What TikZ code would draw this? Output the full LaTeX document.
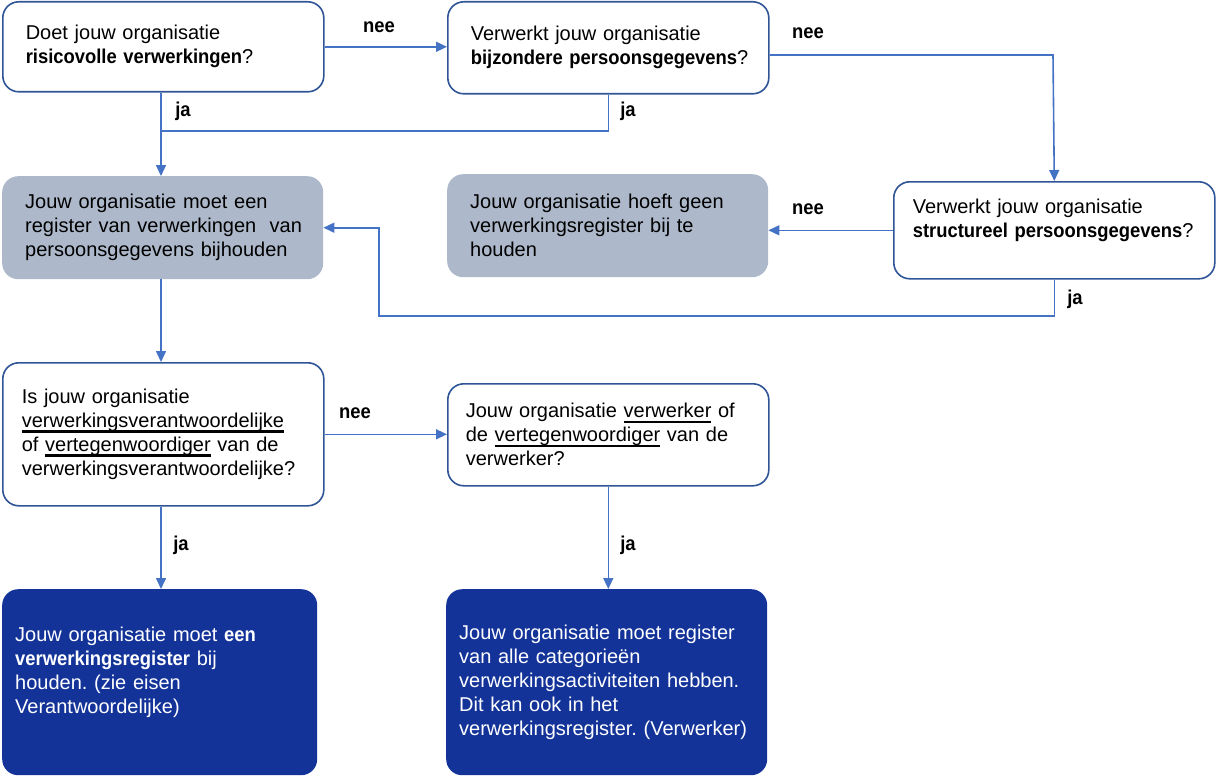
\documentclass[tikz,border=0pt]{standalone}
\usepackage{fontspec}
\setmainfont{Liberation Sans}[BoldFeatures={FakeStretch=0.92}]
\usetikzlibrary{arrows.meta}
\definecolor{bordercol}{HTML}{2F5597}
\definecolor{linecol}{HTML}{4472C4}
\definecolor{greyfill}{HTML}{ADB9CA}
\definecolor{darkfill}{HTML}{133399}
\newcommand\myul[1]{\setbox0\hbox{#1}\leavevmode\rlap{\raisebox{-5.5pt}{\rule{\wd0}{2.8pt}}}\box0\relax}
\frenchspacing
\tikzset{
  basebox/.style={rectangle, rounded corners=16pt, inner xsep=23pt, inner ysep=0pt,
    align=left, text width=275pt, anchor=north west,
    font=\fontsize{20}{24}\selectfont},
  qbox/.style={basebox, draw=bordercol, line width=1.6pt, fill=white},
  gbox/.style={basebox, fill=greyfill},
  dbox/.style={basebox, fill=darkfill, text=white},
  conn/.style={draw=linecol, line width=1.6pt},
  arr/.style={conn, -{Triangle[length=11pt,width=10pt]}},
  lbl/.style={font=\fontsize{20}{24}\selectfont\bfseries, inner sep=0pt}
}
\begin{document}
\begin{tikzpicture}[x=1pt,y=-1pt]
\useasboundingbox (0,0) rectangle (1216,776);

\node[qbox, minimum width=321pt, minimum height=90pt] (q1) at (2,1)
  {Doet jouw organisatie\\\mbox{\textbf{risicovolle verwerkingen}?}};
\node[qbox, minimum width=321pt, minimum height=92pt] (q2) at (447,1)
  {Verwerkt jouw organisatie\\\mbox{\textbf{bijzondere persoonsgegevens}?}};
\node[gbox, minimum width=319pt, minimum height=103pt] (r1) at (2,176)
  {Jouw organisatie moet een\\\mbox{register van verwerkingen\ \ van}\\\mbox{persoonsgegevens bijhouden}};
\node[gbox, minimum width=320pt, minimum height=103pt] (r2) at (447,174)
  {Jouw organisatie hoeft geen\\verwerkingsregister bij te\\houden};
\node[qbox, minimum width=321pt, minimum height=97pt, inner xsep=19pt, text width=283pt] (q3) at (893,181)
  {Verwerkt jouw organisatie\\\mbox{\textbf{structureel persoonsgegevens}?}\\\mbox{}};
\node[qbox, minimum width=321pt, minimum height=143pt, inner xsep=19pt, text width=283pt] (q4) at (2,362)
  {Is jouw organisatie\\\myul{verwerkingsverantwoordelijke}\\\mbox{of \myul{vertegenwoordiger} van de}\\verwerkingsverantwoordelijke?};
\node[qbox, minimum width=321pt, minimum height=102pt, inner xsep=18pt, text width=285pt] (q5) at (447,383)
  {\mbox{Jouw organisatie \myul{verwerker} of}\\\mbox{de \myul{vertegenwoordiger} van de}\\verwerker?};
\node[dbox, minimum width=315pt, minimum height=186pt, inner xsep=13pt, text width=289pt] (f1) at (2,589)
  {\mbox{Jouw organisatie moet \textbf{een}}\\\mbox{\textbf{verwerkingsregister} bij}\\houden. (zie eisen\\Verantwoordelijke)\\\mbox{}};
\node[dbox, minimum width=321pt, minimum height=186pt, inner xsep=13pt, text width=295pt] (f2) at (446,589)
  {Jouw organisatie moet register\\van alle categorieën\\\mbox{verwerkingsactiviteiten hebben.}\\Dit kan ook in het\\\mbox{verwerkingsregister. (Verwerker)}};

% connectors
\coordinate (j1) at (161,131);
\coordinate (b1) at (1053,55);
\coordinate (b2) at (379,316);

\draw[arr] (q1.east) -- (q1.east -| q2.west);
\draw[arr] (q1.south -| j1) -- (r1.north -| j1);
\draw[conn] (q2.south) |- (j1);
\draw[arr] (q2.east |- b1) -- (b1) -- (q3.north);
\draw[arr] (q3.west) -- (q3.west -| r2.east);
\draw[arr] (q3.south) |- (b2) |- (r1.east);
\draw[arr] (r1.south -| j1) -- (q4.north -| j1);
\draw[arr] (q4.east) -- (q4.east -| q5.west);
\draw[arr] (q4.south -| j1) -- (f1.north -| j1);
\draw[arr] (q5.south) -- (q5.south |- f2.north);

% labels
\node[lbl] (l1) at (379,27) {nee};
\node[lbl] (l2) at (183,111) {ja};
\node[lbl] (l3) at (628,111) {ja};
\node[lbl] (l4) at (808,33) {nee};
\node[lbl] (l5) at (808,209) {nee};
\node[lbl] (l6) at (1075,299) {ja};
\node[lbl] (l7) at (355,413) {nee};
\node[lbl] (l8) at (181,545) {ja};
\node[lbl] (l9) at (628,545) {ja};
\end{tikzpicture}
\end{document}
